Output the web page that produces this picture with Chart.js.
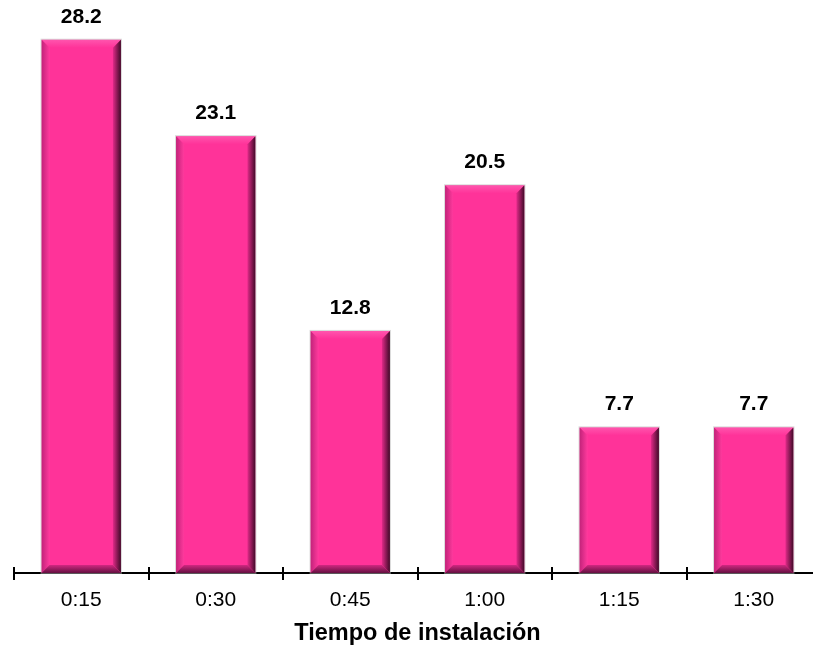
<!DOCTYPE html>
<html>
<head>
<meta charset="utf-8">
<script src="https://cdn.jsdelivr.net/npm/chart.js@4"></script>
<style>
    html, body { margin: 0; padding: 0; background: #fff; overflow: hidden; }
    #wrap { width: 822px; height: 650px; }
</style>
</head>
<body>
<div id="wrap"><canvas id="myChart"></canvas></div>
<script>
const categories = ['0:15', '0:30', '0:45', '1:00', '1:15', '1:30'];
const values = [28.2, 23.1, 12.8, 20.5, 7.7, 7.7];
const axisTitle = 'Tiempo de instalación';

const FONT = "'Liberation Sans', Arial, sans-serif";

// bevelled look of the bars
const bevelPlugin = {
    id: 'bevel',
    afterDatasetsDraw(chart) {
        const ctx = chart.ctx;
        const b = 8;
        chart.getDatasetMeta(0).data.forEach(bar => {
            const { x, y, width, base } = bar.getProps(['x', 'y', 'width', 'base'], true);
            const L = x - width / 2, R = x + width / 2, T = y, B = base;
            ctx.save();

            let g = ctx.createLinearGradient(0, T, 0, T + b);
            g.addColorStop(0, '#ff55ae');
            g.addColorStop(1, '#ff3399');
            ctx.fillStyle = g;
            ctx.beginPath();
            ctx.moveTo(L, T); ctx.lineTo(R, T); ctx.lineTo(R - b, T + b); ctx.lineTo(L + b, T + b);
            ctx.closePath(); ctx.fill();

            g = ctx.createLinearGradient(L, 0, L + b, 0);
            g.addColorStop(0, '#c2237a');
            g.addColorStop(1, '#ff3a9d');
            ctx.fillStyle = g;
            ctx.beginPath();
            ctx.moveTo(L, T); ctx.lineTo(L + b, T + b); ctx.lineTo(L + b, B - b); ctx.lineTo(L, B);
            ctx.closePath(); ctx.fill();

            g = ctx.createLinearGradient(R - b, 0, R, 0);
            g.addColorStop(0, '#e02a88');
            g.addColorStop(1, '#400a28');
            ctx.fillStyle = g;
            ctx.beginPath();
            ctx.moveTo(R, T); ctx.lineTo(R, B); ctx.lineTo(R - b, B - b); ctx.lineTo(R - b, T + b);
            ctx.closePath(); ctx.fill();

            g = ctx.createLinearGradient(0, B - b, 0, B);
            g.addColorStop(0, '#d02881');
            g.addColorStop(1, '#641040');
            ctx.fillStyle = g;
            ctx.beginPath();
            ctx.moveTo(L, B); ctx.lineTo(R, B); ctx.lineTo(R - b, B - b); ctx.lineTo(L + b, B - b);
            ctx.closePath(); ctx.fill();

            ctx.strokeStyle = 'rgba(180,180,180,0.5)';
            ctx.lineWidth = 1;
            ctx.strokeRect(L - 0.5, T - 0.5, width + 1, B - T + 1);
            ctx.restore();
        });
    }
};

// value labels above the bars and tick marks across the axis line
const labelsPlugin = {
    id: 'labels',
    afterDraw(chart) {
        const ctx = chart.ctx;
        ctx.save();
        ctx.font = `bold 21px ${FONT}`;
        ctx.fillStyle = '#000';
        ctx.textAlign = 'center';
        ctx.textBaseline = 'middle';
        chart.getDatasetMeta(0).data.forEach((bar, i) => {
            ctx.fillText(values[i].toFixed(1), bar.x, bar.y - 23);
        });

        const xs = chart.scales.x;
        const yAxis = chart.chartArea.bottom;
        ctx.strokeStyle = '#000';
        ctx.lineWidth = 2;
        for (let i = 0; i <= categories.length; i++) {
            const px = Math.round(xs.getPixelForValue(i - 0.5));
            ctx.beginPath();
            ctx.moveTo(px, yAxis - 6);
            ctx.lineTo(px, yAxis + 7);
            ctx.stroke();
        }
        ctx.restore();
    }
};

const ctx = document.getElementById('myChart').getContext('2d');
new Chart(ctx, {
    type: 'bar',
    data: {
        labels: categories,
        datasets: [{
            data: values,
            backgroundColor: '#ff3399',
            borderWidth: 0,
            categoryPercentage: 1,
            barPercentage: 0.59,
        }]
    },
    options: {
        responsive: true,
        maintainAspectRatio: false,
        animation: false,
        layout: { padding: { left: 14, right: 1, top: 0, bottom: 0 } },
        plugins: {
            legend: { display: false },
            tooltip: { enabled: false },
        },
        scales: {
            x: {
                afterFit(scale) { scale.height = 77; },
                grid: { display: true, drawOnChartArea: false, drawTicks: false },
                border: { display: true, color: '#000', width: 2 },
                ticks: {
                    color: '#000',
                    padding: 15,
                    font: { family: FONT, size: 21 },
                },
                title: {
                    display: true,
                    text: axisTitle,
                    color: '#000',
                    padding: { top: 4, bottom: 2 },
                    font: { family: FONT, size: 23.5, weight: 'bold' },
                },
            },
            y: {
                display: false,
                min: 0,
                max: 30.3,
            },
        },
    },
    plugins: [bevelPlugin, labelsPlugin],
});
</script>
</body>
</html>
